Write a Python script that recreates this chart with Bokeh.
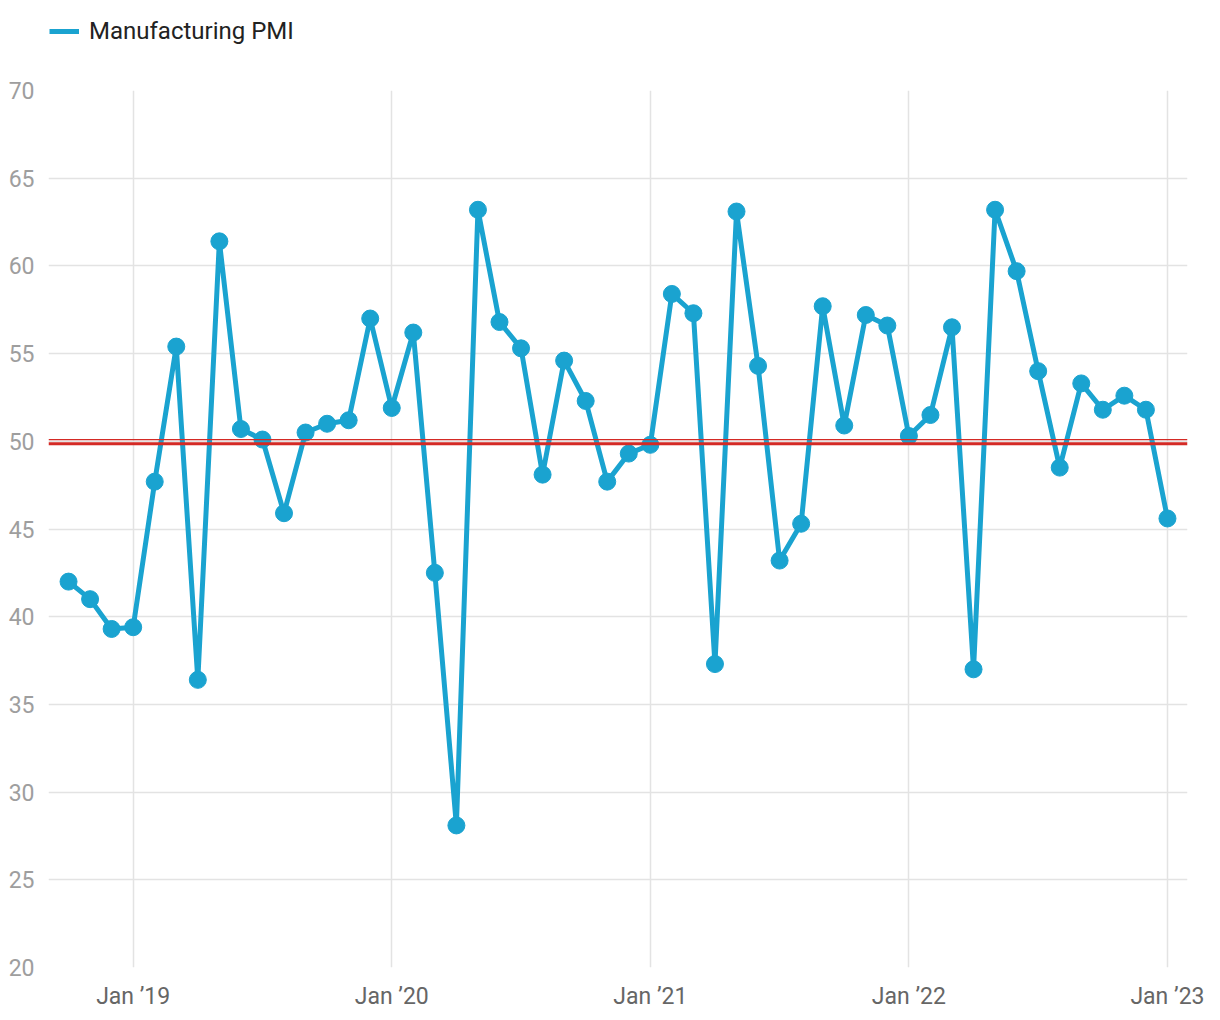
from bokeh.plotting import figure
from bokeh.layouts import column
from bokeh.models import ColumnDataSource, Span, Legend, LegendItem, FixedTicker
from bokeh.embed import file_html
from bokeh.resources import INLINE

months = ["Oct 2018", "Nov 2018", "Dec 2018",
          "Jan 2019", "Feb 2019", "Mar 2019", "Apr 2019", "May 2019", "Jun 2019",
          "Jul 2019", "Aug 2019", "Sep 2019", "Oct 2019", "Nov 2019", "Dec 2019",
          "Jan 2020", "Feb 2020", "Mar 2020", "Apr 2020", "May 2020", "Jun 2020",
          "Jul 2020", "Aug 2020", "Sep 2020", "Oct 2020", "Nov 2020", "Dec 2020",
          "Jan 2021", "Feb 2021", "Mar 2021", "Apr 2021", "May 2021", "Jun 2021",
          "Jul 2021", "Aug 2021", "Sep 2021", "Oct 2021", "Nov 2021", "Dec 2021",
          "Jan 2022", "Feb 2022", "Mar 2022", "Apr 2022", "May 2022", "Jun 2022",
          "Jul 2022", "Aug 2022", "Sep 2022", "Oct 2022", "Nov 2022", "Dec 2022",
          "Jan 2023"]
pmi = [42.0, 41.0, 39.3,
       39.4, 47.7, 55.4, 36.4, 61.4, 50.7,
       50.1, 45.9, 50.5, 51.0, 51.2, 57.0,
       51.9, 56.2, 42.5, 28.1, 63.2, 56.8,
       55.3, 48.1, 54.6, 52.3, 47.7, 49.3,
       49.8, 58.4, 57.3, 37.3, 63.1, 54.3,
       43.2, 45.3, 57.7, 50.9, 57.2, 56.6,
       50.3, 51.5, 56.5, 37.0, 63.2, 59.7,
       54.0, 48.5, 53.3, 51.8, 52.6, 51.8,
       45.6]
x_tick_pos = [3, 15, 27, 39, 51]
x_tick_labels = ["Jan \u201919", "Jan \u201920", "Jan \u201921", "Jan \u201922", "Jan \u201923"]
y_ticks = [20, 25, 30, 35, 40, 45, 50, 55, 60, 65, 70]
threshold = 50
series_name = "Manufacturing PMI"

idx = list(range(len(months)))
src = ColumnDataSource(dict(x=idx, y=pmi, m=months))

BLUE = "#1aa3d0"
FONT = "Roboto"
W = 1212

# ---- header holding the legend (key line lies outside its visible range) ----
hdr = figure(width=W, height=60, output_backend="svg", toolbar_location=None,
             x_axis_type=None, y_axis_type=None, x_range=(0, 1), y_range=(0, 1),
             min_border=0)
hdr.outline_line_color = None
hdr.grid.visible = False
key = hdr.line(x=[5, 6], y=[5, 5], line_color=BLUE, line_width=5)
legend = Legend(items=[LegendItem(label=series_name, renderers=[key])],
                location=(1, 15), orientation="horizontal",
                padding=0, margin=0, border_line_color=None, background_fill_alpha=0,
                glyph_width=30, glyph_height=26, label_standoff=10,
                label_text_font=FONT, label_text_font_size="24px", label_text_color="#222222")
hdr.add_layout(legend, "center")

# ---- main chart ----
p = figure(width=W, height=952, output_backend="svg", toolbar_location=None,
           x_range=(-0.93, 51.93), y_range=(20, 70),
           min_border_left=48, min_border_right=25, min_border_top=30, min_border_bottom=42)
p.outline_line_color = None
p.background_fill_color = "white"

p.xaxis.ticker = FixedTicker(ticks=x_tick_pos)
p.xaxis.major_label_overrides = {t: l for t, l in zip(x_tick_pos, x_tick_labels)}
p.yaxis.ticker = FixedTicker(ticks=y_ticks)
for ax in (p.xaxis, p.yaxis):
    ax.axis_line_color = None
    ax.major_tick_line_color = None
    ax.minor_tick_line_color = None
    ax.major_label_text_font = FONT
    ax.major_label_text_font_size = "23px"
p.xaxis.major_label_text_color = "#666666"
p.yaxis.major_label_text_color = "#9e9e9e"
p.xaxis.major_label_standoff = 9
p.yaxis.major_label_standoff = 8

p.xgrid.ticker = FixedTicker(ticks=x_tick_pos)
p.ygrid.ticker = FixedTicker(ticks=y_ticks)
p.grid.grid_line_color = "#e3e3e3"
p.grid.grid_line_width = 1.5

p.add_layout(Span(location=threshold + 0.09, dimension="width", line_color="#d42a25", line_width=1.2))
p.add_layout(Span(location=threshold - 0.14, dimension="width", line_color="#d42a25", line_width=2.8))

p.line("x", "y", source=src, line_color=BLUE, line_width=5)
p.scatter("x", "y", source=src, size=17, fill_color=BLUE, line_color=BLUE)

layout = column(hdr, p, spacing=0)
open("out.html", "w").write(file_html(layout, INLINE))
